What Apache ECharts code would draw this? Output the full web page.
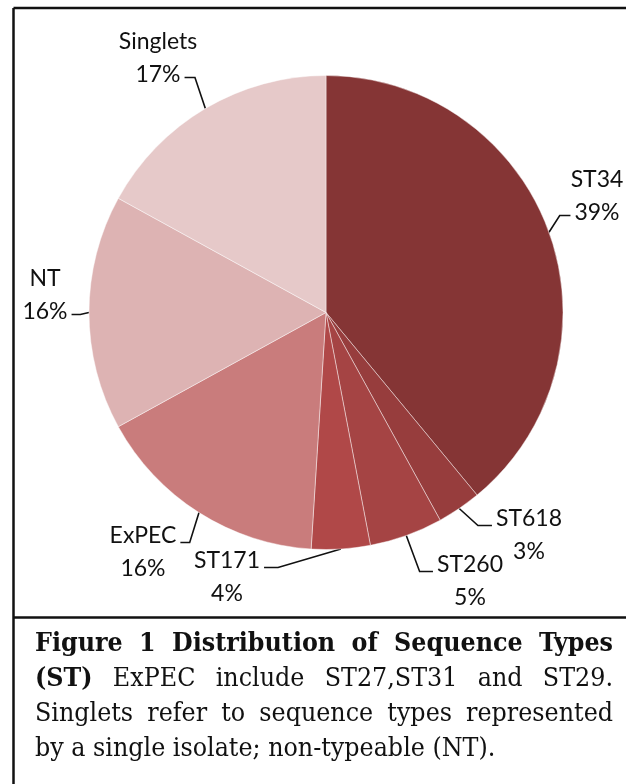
<!DOCTYPE html>
<html><head><meta charset="utf-8">
<script src="https://cdn.jsdelivr.net/npm/echarts@6/dist/echarts.min.js"></script>
<style>html,body{margin:0;padding:0;background:#fff}#c{width:626px;height:784px}</style>
</head><body><div id="c"></div>
<script>
// ---- data ----
var categories = ['ST34', 'ST618', 'ST260', 'ST171', 'ExPEC', 'NT', 'Singlets'];
var percents = [39, 3, 5, 4, 16, 16, 17];
var sliceColors = ['#853535', '#973D3D', '#A54444', '#B04848', '#C97C7C', '#DDB3B3', '#E6C9C9'];
var captionLine1 = [['Figure', 1], ['1', 1], ['Distribution', 1], ['of', 1], ['Sequence', 1], ['Types', 1]];
var captionLine2 = [['(ST)', 1], ['ExPEC', 0], ['include', 0], ['ST27,ST31', 0], ['and', 0], ['ST29.', 0]];
var captionLine3 = [['Singlets', 0], ['refer', 0], ['to', 0], ['sequence', 0], ['types', 0], ['represented', 0]];
var captionLine4 = [['by', 0], ['a', 0], ['single', 0], ['isolate;', 0], ['non-typeable', 0], ['(NT).', 0]];

// ---- styling / layout ----
var LABEL_FONT_FAMILY = 'Lato';
var LABEL_SIZE = 23;
var LABEL_LH = 33;
var PIE_C = [326, 312.5];
var PIE_R = 237;
var labelPlace = {
  ST34: [597, 196], ST618: [529, 535], ST260: [470, 581], ST171: [227, 577],
  ExPEC: [143, 552], NT: [45, 295], Singlets: [158, 58]
};

var cv = document.createElement('canvas').getContext('2d');
function textW(t, font) { cv.font = font; return cv.measureText(t).width; }
function hasFont(f) {
  var s = 'abcdefghijklmnopqrstuvwxyz';
  return textW(s, '40px "' + f + '", monospace') === textW(s, '40px "' + f + '", sans-serif');
}
var CAP_FAMILY = hasFont('DejaVu Serif Condensed') ? '"DejaVu Serif Condensed"' : '"Liberation Serif"';

var chart = echarts.init(document.getElementById('c'), null, { renderer: 'canvas' });

var data = categories.map(function (n, i) {
  return { name: n, value: percents[i], itemStyle: { color: sliceColors[i] } };
});

// caption (justified lines 1-3)
var CAP_LEFT = 35, CAP_RIGHT = 613;
var captionLines = [captionLine1, captionLine2, captionLine3, captionLine4];
function capFont(bold, size) { return (bold ? 'bold ' : '') + size + 'px ' + CAP_FAMILY; }
var natural3 = captionLine3.map(function (w) { return w[0]; }).join(' ');
var CAP_SIZE = Math.round(24 * 545 / textW(natural3, capFont(0, 24)) * 10) / 10;
var capBaselines = [652, 687, 722, 757];
var capGraphics = [];
captionLines.forEach(function (line, li) {
  var fonts = line.map(function (w) { return capFont(w[1], CAP_SIZE); });
  var widths = line.map(function (w, k) { return textW(w[0], fonts[k]); });
  var sum = widths.reduce(function (a, b) { return a + b; }, 0);
  var gap = li < 3 ? (CAP_RIGHT - CAP_LEFT - sum) / (line.length - 1) : textW(' ', fonts[0]);
  var x = CAP_LEFT;
  line.forEach(function (w, k) {
    capGraphics.push({
      type: 'text', x: x, y: capBaselines[li] + Math.round(CAP_SIZE * 0.23),
      style: { text: w[0], font: fonts[k], fill: '#111', align: 'left', verticalAlign: 'bottom' }
    });
    x += widths[k] + gap;
  });
});

var option = {
  animation: false,
  backgroundColor: '#fff',
  graphic: [
    { type: 'line', shape: { x1: 13.5, y1: 8, x2: 626, y2: 8 }, style: { stroke: '#111', lineWidth: 2.5 } },
    { type: 'line', shape: { x1: 13.5, y1: 8, x2: 13.5, y2: 784 }, style: { stroke: '#111', lineWidth: 2.5 } },
    { type: 'line', shape: { x1: 13.5, y1: 617.5, x2: 626, y2: 617.5 }, style: { stroke: '#111', lineWidth: 2.5 } }
  ].concat(capGraphics),
  series: [{
    type: 'pie',
    center: PIE_C,
    radius: PIE_R,
    startAngle: 90,
    clockwise: true,
    avoidLabelOverlap: false,
    data: data,
    itemStyle: { borderColor: 'rgba(255,255,255,0.55)', borderWidth: 0.8 },
    emphasis: { disabled: true },
    label: {
      show: true,
      position: 'outside',
      formatter: function (p) { return '{a|' + p.name + '}\n{a|' + p.value + '%}'; },
      rich: {
        a: { width: 110, align: 'center', fontFamily: LABEL_FONT_FAMILY, fontSize: LABEL_SIZE, lineHeight: LABEL_LH, color: '#111' }
      }
    },
    labelLine: { show: true, length: 10, length2: 10, lineStyle: { color: '#111', width: 1.6 } },
    labelLayout: function (p) {
      var name = categories[p.dataIndex];
      var place = labelPlace[name];
      var r = p.labelRect;
      var dx = place[0] - (r.x + r.width / 2);
      var dy = place[1] - (r.y + r.height / 2);
      var start = p.labelLinePoints ? p.labelLinePoints[0] : [place[0], place[1]];
      var upper = place[1] < PIE_C[1] - 20 || name === 'NT';
      var attachText = upper ? (percents[p.dataIndex] + '%') : name;
      var attachY = upper ? place[1] + LABEL_LH / 2 + 3 : place[1] - LABEL_LH / 2 + 7;
      var w = textW(attachText, LABEL_SIZE + 'px ' + LABEL_FONT_FAMILY);
      var leftSide = place[0] < PIE_C[0];
      var ax = leftSide ? place[0] + w / 2 + 4 : place[0] - w / 2 - 4;
      var seg = Math.min(14, Math.abs(start[0] - ax) * 0.5);
      var bx = leftSide ? ax + seg : ax - seg;
      return { dx: dx, dy: dy, labelLinePoints: [start, [bx, attachY], [ax, attachY]] };
    }
  }]
};
chart.setOption(option);
</script>
</body></html>
